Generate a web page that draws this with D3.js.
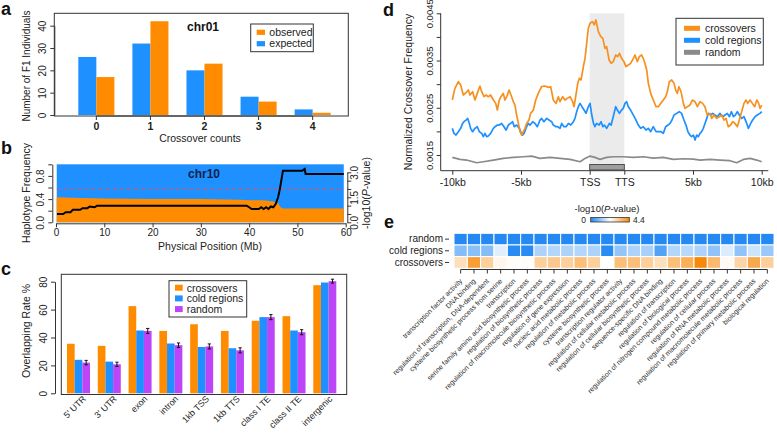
<!DOCTYPE html>
<html><head><meta charset="utf-8">
<script src="https://cdn.jsdelivr.net/npm/d3@7"></script>
<style>
html,body{margin:0;padding:0;background:#fff;}
svg{display:block;font-family:"Liberation Sans",Arial,Helvetica,sans-serif;}
</style></head><body>
<svg id="chart" width="777" height="433"></svg>
<script>
// ---------------- DATA ----------------
// panel a
const aCats = ["0","1","2","3","4"];
const aExpected = [26, 32, 20, 8.2, 2.5];
const aObserved = [17, 42, 23, 6, 1];
const aTicks = [0, 10, 20, 30, 40];

// panel b (positions in Mb)
const bHapPos  = [0.15, 5, 10, 20, 30, 38, 40, 43, 45, 46, 46.5, 47, 59.6];
const bHapFreq = [0.43, 0.42, 0.41, 0.40, 0.40, 0.39, 0.38, 0.38, 0.36, 0.33, 0.26, 0.24, 0.24];
const bPvalPos = [0.2,1.5,2,3,3.5,5,5.5,6.5,7,8,8.5,10,20,30,39.5,40,40.5,42,42.5,43,43.5,44,44.5,45,45.5,46,46.3,46.6,47,51,51.5,51.7,59.6];
const bPval    = [0.5,0.5,0.6,0.6,0.75,0.75,0.85,0.85,0.95,0.9,1.0,1.0,1.0,1.0,1.0,0.9,0.8,0.8,0.9,0.8,0.9,0.8,0.95,0.9,1.1,1.5,1.9,2.4,3.1,3.1,3.2,2.9,2.9];
const bThreshold = 2;
const bXTicks = [0,10,20,30,40,50,60];

// panel c
const cCats = ["5' UTR","3' UTR","exon","intron","1kb TSS","1kb TTS","class I TE","class II TE","intergenic"];
const cCross  = [35.5, 34, 62.5, 44.7, 49.5, 44.7, 52, 55.3, 77.5];
const cCold   = [24, 22.7, 45, 35.7, 33.2, 32.3, 54.6, 45, 79.4];
const cRandom = [22, 20.8, 44.7, 34.5, 33.6, 30.8, 54.6, 43.8, 80.4];
const cRandomErr = [1.6, 1.5, 1.8, 1.6, 1.8, 1.8, 1.8, 1.8, 1.4];
const cSeries = ["crossovers","cold regions","random"];

// panel d : position (-10..0 kb upstream, 0..1 gene body, 1..11 = TTS + 0..10 kb), value in units of 1e-4
const dUnit = 1e-4;
const dCross = [[-10.0,26.64],[-9.81,29.11],[-9.56,30.52],[-9.39,29.82],[-9.20,27.70],[-9.00,28.19],[-8.83,28.76],[-8.71,27.70],[-8.52,28.40],[-8.35,26.64],[-8.18,28.05],[-7.99,29.60],[-7.86,28.40],[-7.69,27.34],[-7.55,27.70],[-7.38,27.34],[-7.21,27.70],[-7.01,26.64],[-6.84,25.93],[-6.72,24.52],[-6.58,26.64],[-6.46,27.34],[-6.29,28.05],[-6.17,26.64],[-5.99,27.70],[-5.87,28.76],[-5.68,27.34],[-5.56,26.29],[-5.44,25.58],[-5.32,23.46],[-5.19,21.69],[-5.07,19.93],[-4.95,19.22],[-4.83,19.93],[-4.71,20.64],[-4.59,21.69],[-4.42,22.40],[-4.30,23.81],[-4.10,24.52],[-3.93,26.64],[-3.74,28.05],[-3.50,29.46],[-3.25,29.60],[-3.01,29.32],[-2.84,29.46],[-2.65,26.64],[-2.45,25.93],[-2.28,27.34],[-2.16,26.29],[-1.97,27.34],[-1.80,26.64],[-1.63,26.99],[-1.43,27.34],[-1.24,26.29],[-1.14,25.23],[-1.02,27.34],[-0.87,30.17],[-0.75,31.23],[-0.63,30.88],[-0.46,33.70],[-0.34,35.47],[-0.22,38.64],[-0.10,41.82],
[0.01,42.88],[0.08,43.23],[0.13,42.53],[0.18,43.59],[0.25,41.12],[0.32,40.06],[0.38,39.70],[0.44,37.58],[0.49,37.94],[0.56,35.11],[0.62,34.41],[0.68,34.76],[0.75,36.17],[0.81,35.82],[0.86,36.53],[0.92,35.47],[0.99,34.76],
[1.12,33.70],[1.29,34.05],[1.46,34.41],[1.66,35.47],[1.78,36.17],[1.95,34.76],[2.09,35.82],[2.26,36.17],[2.38,35.47],[2.50,34.41],[2.63,33.00],[2.75,30.17],[2.92,28.05],[3.11,26.64],[3.31,25.23],[3.48,25.23],[3.65,25.93],[3.84,26.64],[4.01,27.34],[4.13,28.40],[4.28,30.52],[4.45,30.88],[4.62,30.17],[4.74,28.76],[4.86,28.05],[4.98,29.46],[5.13,28.40],[5.30,25.93],[5.42,24.87],[5.59,25.23],[5.78,25.58],[5.95,26.64],[6.15,26.29],[6.32,25.23],[6.51,26.29],[6.70,25.93],[6.87,25.23],[7.04,23.46],[7.24,23.81],[7.36,22.75],[7.53,23.46],[7.72,22.75],[7.92,23.11],[8.09,23.46],[8.26,22.40],[8.40,22.75],[8.57,20.99],[8.74,21.34],[8.89,22.05],[9.06,21.69],[9.23,20.99],[9.37,22.40],[9.54,24.17],[9.71,25.93],[9.86,26.64],[9.98,25.93],[10.15,26.64],[10.32,25.93],[10.49,25.23],[10.64,26.64],[10.78,25.93],[10.88,24.87],[11.0,25.58]];
const dCold = [[-10.0,20.64],[-9.88,19.58],[-9.73,19.22],[-9.56,19.93],[-9.39,20.64],[-9.25,21.69],[-9.15,22.05],[-9.00,22.40],[-8.88,22.75],[-8.76,21.69],[-8.67,20.64],[-8.52,19.93],[-8.35,20.64],[-8.18,20.99],[-8.03,19.93],[-7.86,19.58],[-7.74,18.87],[-7.62,19.58],[-7.50,18.87],[-7.38,19.01],[-7.21,19.58],[-7.01,20.64],[-6.89,20.99],[-6.72,21.34],[-6.58,21.34],[-6.41,21.69],[-6.24,20.99],[-6.09,20.28],[-5.92,21.34],[-5.75,21.69],[-5.61,22.05],[-5.49,20.99],[-5.32,21.34],[-5.12,20.64],[-4.98,19.58],[-4.88,19.22],[-4.78,19.58],[-4.59,20.99],[-4.47,21.69],[-4.34,21.34],[-4.15,22.05],[-3.98,21.69],[-3.81,20.99],[-3.62,22.40],[-3.50,22.75],[-3.33,22.05],[-3.13,22.75],[-2.96,22.40],[-2.77,22.05],[-2.65,21.34],[-2.45,20.99],[-2.33,20.99],[-2.16,20.64],[-2.04,21.69],[-1.87,20.99],[-1.72,20.99],[-1.55,21.69],[-1.38,21.34],[-1.19,22.05],[-1.07,22.75],[-0.95,24.17],[-0.83,25.23],[-0.70,25.93],[-0.56,25.23],[-0.41,24.52],[-0.27,23.81],[-0.10,25.23],
[0.01,25.93],[0.06,23.46],[0.11,21.69],[0.15,20.99],[0.20,21.69],[0.27,21.34],[0.33,22.05],[0.38,20.99],[0.42,21.34],[0.49,20.64],[0.57,21.69],[0.62,21.34],[0.68,23.11],[0.75,25.23],[0.80,24.52],[0.86,23.81],[0.92,24.52],[0.97,24.87],
[1.05,25.93],[1.17,26.29],[1.29,25.23],[1.46,24.52],[1.66,23.46],[1.85,22.40],[2.02,21.34],[2.19,20.64],[2.38,20.99],[2.58,20.28],[2.75,20.64],[2.92,19.93],[3.11,20.99],[3.31,19.93],[3.48,19.93],[3.67,19.93],[3.84,19.58],[4.01,20.99],[4.18,21.34],[4.33,21.69],[4.47,22.40],[4.62,23.46],[4.81,23.81],[5.00,24.17],[5.17,23.81],[5.34,22.40],[5.49,21.34],[5.63,19.93],[5.78,19.22],[5.90,18.87],[6.03,19.22],[6.15,18.16],[6.27,19.22],[6.39,18.87],[6.51,19.58],[6.63,19.93],[6.75,20.64],[6.87,21.69],[7.00,22.75],[7.12,23.81],[7.29,23.46],[7.43,23.81],[7.60,23.46],[7.77,23.11],[7.96,23.81],[8.16,23.11],[8.33,23.46],[8.50,23.81],[8.65,23.11],[8.79,24.17],[8.94,23.11],[9.08,23.46],[9.23,24.17],[9.37,23.46],[9.54,22.75],[9.71,23.11],[9.91,21.69],[10.03,20.64],[10.20,21.69],[10.34,22.40],[10.52,23.11],[10.68,23.46],[10.88,23.81],[11.0,24.17]];
const dRandom = [[-10,14.49],[-9.44,14.07],[-8.96,13.93],[-8.23,13.36],[-7.74,13.57],[-7.01,13.93],[-6.29,14.28],[-5.56,14.49],[-4.83,14.63],[-4.22,14.77],[-3.62,14.28],[-2.89,14.49],[-2.16,14.28],[-1.43,14.07],[-0.70,13.57],[-0.34,14.28],[0.01,14.77],[0.15,14.49],[0.30,14.07],[0.49,14.49],[0.68,14.63],[0.97,14.63],[1.66,14.49],[2.38,14.63],[3.11,14.35],[3.84,14.49],[4.57,14.07],[5.30,14.21],[6.03,14.14],[6.51,13.93],[7.24,14.07],[7.97,13.93],[8.69,13.79],[9.18,13.36],[9.67,14.07],[10.15,14.28],[10.64,13.93],[11.0,13.57]];
const dXTicks = [-10, -5, 0, 1, 6, 11];
const dXLabels = ["-10kb","-5kb","TSS","TTS","5kb","10kb"];
const dYTicks = [0.0015,0.0020,0.0025,0.0030,0.0035,0.0040,0.0045];
const dYLabelled = [0.0015,0.0025,0.0035,0.0045];

// panel e
const eTerms = ["transcription factor activity","DNA binding","regulation of transcription, DNA-dependent","cysteine biosynthetic process from serine","transcription","serine family amino acid biosynthetic process","regulation of biosynthetic process","regulation of macromolecule biosynthetic process","regulation of gene expression","nucleic acid metabolic process","regulation of metabolic process","cysteine biosynthetic process","transcription regulator activity","regulation of cellular metabolic process","regulation of cellular biosynthetic process","sequence-specific DNA binding","regulation of transcription","regulation of biological process","regulation of nitrogen compound metabolic process","regulation of cellular process","regulation of RNA metabolic process","regulation of macromolecule metabolic process","regulation of primary metabolic process","biological regulation"];
const eRows = ["random","cold regions","crossovers"];
const eRandom = [0.05,0.05,0.05,0.05,0.05,0.05,0.05,0.05,0.05,0.05,0.05,0.05,0.05,0.05,0.05,0.05,0.05,0.05,0.05,0.05,0.05,0.05,0.05,0.05];
const eCold   = [1.0,1.05,1.0,1.9,0.1,0.1,1.4,1.45,1.4,1.45,1.4,0.1,1.15,1.4,1.35,0.5,1.45,1.5,1.4,1.1,1.85,1.1,1.7,1.2];
const eCross  = [2.8,4.0,3.1,2.35,2.25,2.25,3.1,3.2,3.1,3.4,3.1,2.2,3.4,3.4,3.1,2.8,3.4,3.7,4.4,3.5,2.3,3.0,3.8,3.1];
const eMax = 4.4;

// ---------------- DRAWING ----------------
const ORANGE = "#FF8C00", BLUE = "#1E90FF", PURPLE = "#BC45F7", GRAY = "#8a8a8a", INK = "#222";
const svg = d3.select("#chart");

function styleAxis(g, fs) {
  g.attr("font-family", null).attr("font-size", null);
  g.selectAll("text").attr("fill", INK).style("font-size", fs + "px");
  g.selectAll("line").attr("stroke", "#333");
  g.selectAll("path.domain").attr("stroke", "#333");
}
function rotYLabels(g, off) {
  g.selectAll(".tick text").attr("transform", "rotate(-90)").attr("x", 0).attr("y", off)
    .attr("dy", 0).attr("text-anchor", "middle");
}
function panelLetter(t, x, y) {
  svg.append("text").attr("x", x).attr("y", y).text(t)
    .attr("font-weight", "bold").attr("font-size", 18).attr("fill", "#111");
}

// ===== Panel a =====
panelLetter("a", 1, 15);
const aX = d3.scaleBand().domain(aCats).range([69.3, 339.7]).paddingInner(1/3).paddingOuter(1/6);
const aY = d3.scaleLinear().domain([0, 40]).range([115, 25.7]);
const gA = svg.append("g");
gA.selectAll("rect.exp").data(aCats).join("rect").attr("class","exp")
  .attr("x", d => aX(d)).attr("width", aX.bandwidth()/2)
  .attr("y", (d,i) => aY(aExpected[i])).attr("height", (d,i) => aY(0) - aY(aExpected[i])).attr("fill", BLUE);
gA.selectAll("rect.obs").data(aCats).join("rect").attr("class","obs")
  .attr("x", d => aX(d) + aX.bandwidth()/2).attr("width", aX.bandwidth()/2)
  .attr("y", (d,i) => aY(aObserved[i])).attr("height", (d,i) => aY(0) - aY(aObserved[i])).attr("fill", ORANGE);
gA.append("rect").attr("x", 54.3).attr("y", 13.3).attr("width", 294).attr("height", 102.7)
  .attr("fill", "none").attr("stroke", "#333");
const aYAxis = gA.append("g").attr("transform", "translate(54.3,0)")
  .call(d3.axisLeft(aY).tickValues(aTicks).tickSize(4).tickSizeOuter(0));
styleAxis(aYAxis, 10); rotYLabels(aYAxis, -8);
const aXAxis = gA.append("g").attr("transform", "translate(0,116)")
  .call(d3.axisBottom(aX).tickSize(4).tickSizeOuter(0));
styleAxis(aXAxis, 10.5);
aXAxis.select("path.domain").remove();
aXAxis.selectAll(".tick text").attr("font-weight", "bold").attr("y", 7);
gA.append("line").attr("x1", aX("0") + aX.bandwidth()/2).attr("x2", aX("4") + aX.bandwidth()/2)
  .attr("y1", 116).attr("y2", 116).attr("stroke", "#333");
gA.append("text").attr("x", 200).attr("y", 142).attr("text-anchor", "middle").attr("font-size", 10.5).attr("fill", INK).text("Crossover counts");
gA.append("text").attr("transform", "translate(30,66) rotate(-90)").attr("text-anchor", "middle").attr("font-size", 10).attr("fill", INK).text("Number of F1 Individuals");
gA.append("text").attr("x", 203).attr("y", 30.5).attr("text-anchor", "middle").attr("font-size", 12).attr("font-weight", "bold").attr("fill", "#111").text("chr01");
// legend a
gA.append("rect").attr("x", 250.7).attr("y", 24).attr("width", 62.6).attr("height", 27.7).attr("fill", "#fff").attr("stroke", "#333");
[["observed", ORANGE, 32.3], ["expected", BLUE, 43.7]].forEach(([t, c, y]) => {
  gA.append("rect").attr("x", 256.7).attr("y", y - 2.6).attr("width", 8.3).attr("height", 5.2).attr("fill", c);
  gA.append("text").attr("x", 269.3).attr("y", y + 3.6).attr("font-size", 10.5).attr("fill", INK).text(t);
});

// ===== Panel b =====
panelLetter("b", 1, 154);
const bX = d3.scaleLinear().domain([0, 60]).range([56, 345.7]);
const bY = d3.scaleLinear().domain([0, 1]).range([222.3, 164.3]);
const bP = d3.scaleLinear().domain([0, 3]).range([222.3, 172.3]);
const gB = svg.append("g");
gB.append("rect").attr("x", bX(bHapPos[0])).attr("y", bY(1))
  .attr("width", bX(bHapPos[bHapPos.length-1]) - bX(bHapPos[0])).attr("height", bY(0) - bY(1)).attr("fill", BLUE);
const hapPts = bHapPos.map((p, i) => [p, bHapFreq[i]]);
gB.append("path").datum(hapPts).attr("fill", ORANGE)
  .attr("d", d3.area().x(d => bX(d[0])).y0(bY(0)).y1(d => bY(d[1])));
gB.append("line").attr("x1", bX(bHapPos[0])).attr("x2", bX(bHapPos[bHapPos.length-1]))
  .attr("y1", bP(bThreshold)).attr("y2", bP(bThreshold))
  .attr("stroke", "#e0565b").attr("stroke-width", 1).attr("stroke-dasharray", "4,3");
const pPts = bPvalPos.map((p, i) => [p, bPval[i]]);
gB.append("path").datum(pPts).attr("fill", "none").attr("stroke", "#000").attr("stroke-width", 2)
  .attr("d", d3.line().x(d => bX(d[0])).y(d => bP(d[1])));
gB.append("text").attr("x", 204).attr("y", 178).attr("text-anchor", "middle").attr("font-size", 12).attr("font-weight", "bold").attr("fill", "#13204a").text("chr10");
const bYAxis = gB.append("g").attr("transform", "translate(52.3,0)")
  .call(d3.axisLeft(bY).tickValues([0,0.2,0.4,0.6,0.8,1.0]).tickSize(4).tickSizeOuter(0)
    .tickFormat(d => [0,0.4,0.8].includes(+d.toFixed(1)) ? d.toFixed(1) : ""));
styleAxis(bYAxis, 10); rotYLabels(bYAxis, -8);
const bRAxis = gB.append("g").attr("transform", "translate(347.3,0)")
  .call(d3.axisRight(bP).tickValues([0,0.5,1,1.5,2,2.5,3]).tickSize(4).tickSizeOuter(0)
    .tickFormat(d => [0,1.5,3].includes(d) ? d.toFixed(1) : ""));
styleAxis(bRAxis, 10); rotYLabels(bRAxis, 10.6);
const bXAxis = gB.append("g").attr("transform", "translate(0,223.3)")
  .call(d3.axisBottom(bX).tickValues(bXTicks).tickSize(4).tickSizeOuter(0));
styleAxis(bXAxis, 10);
bXAxis.selectAll(".tick text").attr("y", 6);
gB.append("text").attr("x", 210).attr("y", 249.5).attr("text-anchor", "middle").attr("font-size", 10.5).attr("fill", INK).text("Physical Position (Mb)");
gB.append("text").attr("transform", "translate(30,193) rotate(-90)").attr("text-anchor", "middle").attr("font-size", 10.5).attr("fill", INK).text("Haplotype Frequency");
const bRT = gB.append("text").attr("transform", "translate(370,193) rotate(-90)").attr("text-anchor", "middle").attr("font-size", 10.5).attr("fill", INK);
bRT.append("tspan").text("-log10(");
bRT.append("tspan").attr("font-style", "italic").text("P");
bRT.append("tspan").text("-value)");

// ===== Panel c =====
panelLetter("c", 1, 275);
const cX = d3.scaleBand().domain(cCats).range([63.1, 340.2]).paddingInner(0.253).paddingOuter(0.1266);
const cSub = d3.scaleBand().domain(cSeries).range([0, cX.bandwidth()]);
const cY = d3.scaleLinear().domain([0, 80]).range([393.3, 281.7]);
const gC = svg.append("g");
const cVals = [cCross, cCold, cRandom];
const cCols = [ORANGE, BLUE, PURPLE];
cSeries.forEach((s, si) => {
  gC.selectAll("rect.s" + si).data(cCats).join("rect").attr("class", "s" + si)
    .attr("x", d => cX(d) + cSub(s)).attr("width", cSub.bandwidth())
    .attr("y", (d,i) => cY(cVals[si][i])).attr("height", (d,i) => cY(0) - cY(cVals[si][i])).attr("fill", cCols[si]);
});
cCats.forEach((c, i) => {
  const x = cX(c) + cSub("random") + cSub.bandwidth()/2;
  const y1 = cY(cRandom[i] - cRandomErr[i]), y2 = cY(cRandom[i] + cRandomErr[i]);
  gC.append("line").attr("x1", x).attr("x2", x).attr("y1", y1).attr("y2", y2).attr("stroke", "#111").attr("stroke-width", 1);
  [y1, y2].forEach(y => gC.append("line").attr("x1", x - 1.6).attr("x2", x + 1.6).attr("y1", y).attr("y2", y).attr("stroke", "#111"));
});
gC.append("rect").attr("x", 61.3).attr("y", 274.3).attr("width", 285.4).attr("height", 120.2).attr("fill", "none").attr("stroke", "#333");
const cYAxis = gC.append("g").attr("transform", "translate(55,0)")
  .call(d3.axisLeft(cY).tickValues([0,20,40,60,80]).tickSize(4).tickSizeOuter(0));
styleAxis(cYAxis, 10); rotYLabels(cYAxis, -8);
gC.selectAll("text.xl").data(cCats).join("text").attr("class", "xl")
  .attr("transform", d => `translate(${cX(d) + cX.bandwidth()/2 + 8},399.5) rotate(-45)`)
  .attr("text-anchor", "end").attr("font-size", 8.9).attr("fill", INK).text(d => d);
gC.append("text").attr("transform", "translate(30,331) rotate(-90)").attr("text-anchor", "middle").attr("font-size", 10.5).attr("fill", INK).text("Overlapping Rate %");
gC.append("rect").attr("x", 169).attr("y", 280.7).attr("width", 77.7).attr("height", 36.3).attr("fill", "#fff").attr("stroke", "#333");
cSeries.forEach((s, i) => {
  const y = 287.7 + i * 10.7;
  gC.append("rect").attr("x", 175).attr("y", y - 3).attr("width", 7.7).attr("height", 6).attr("fill", cCols[i]);
  gC.append("text").attr("x", 186.7).attr("y", y + 3.8).attr("font-size", 10.5).attr("fill", INK).text(s);
});

// ===== Panel d =====
panelLetter("d", 383, 16);
const dX = d3.scaleLinear().domain([-10, 0, 1, 11]).range([452.3, 589.7, 624.3, 761.7]);
const dY = d3.scaleLinear().domain([0.0015, 0.0045]).range([155, 13.3]);
const gD = svg.append("g");
gD.append("rect").attr("x", dX(0)).attr("width", dX(1) - dX(0)).attr("y", 13.3).attr("height", 152).attr("fill", "#ebebeb");
const dLine = d3.line().x(d => dX(d[0])).y(d => dY(d[1] * dUnit));
[[dRandom, GRAY], [dCold, BLUE], [dCross, "#F7901E"]].forEach(([data, col]) => {
  gD.append("path").datum(data).attr("fill", "none").attr("stroke", col).attr("stroke-width", 1.7)
    .attr("stroke-linejoin", "round").attr("d", dLine);
});
gD.append("rect").attr("x", dX(0)).attr("width", dX(1) - dX(0)).attr("y", 164.5).attr("height", 5.5)
  .attr("fill", "#9e9e9e").attr("stroke", "#333").attr("stroke-width", 0.8);
gD.append("line").attr("x1", 440.7).attr("x2", 440.7).attr("y1", 13.3).attr("y2", 170.7).attr("stroke", "#333");
gD.append("line").attr("x1", 440.7).attr("x2", 768.3).attr("y1", 170.7).attr("y2", 170.7).attr("stroke", "#333");
const dYAxis = gD.append("g").attr("transform", "translate(440.7,0)")
  .call(d3.axisLeft(dY).tickValues(dYTicks).tickSize(4).tickSizeOuter(0)
    .tickFormat(d => dYLabelled.some(v => Math.abs(v - d) < 1e-9) ? d.toFixed(4) : ""));
styleAxis(dYAxis, 9.5); rotYLabels(dYAxis, -8);
dYAxis.select("path.domain").remove();
const dXAxis = gD.append("g").attr("transform", "translate(0,170.7)")
  .call(d3.axisBottom(dX).tickValues(dXTicks).tickSize(4).tickSizeOuter(0).tickFormat((d, i) => dXLabels[i]));
styleAxis(dXAxis, 10.5);
dXAxis.select("path.domain").remove();
dXAxis.selectAll(".tick text").attr("y", 8);
gD.append("text").attr("transform", "translate(412,92) rotate(-90)").attr("text-anchor", "middle").attr("font-size", 10.5).attr("fill", INK).text("Normalized Crossover Frequency");
gD.append("rect").attr("x", 676).attr("y", 18.3).attr("width", 87.3).attr("height", 46.7).attr("fill", "#fff").attr("stroke", "#333");
[["crossovers", "#F7901E"], ["cold regions", BLUE], ["random", GRAY]].forEach(([t, c], i) => {
  const y = 28.3 + i * 12;
  gD.append("rect").attr("x", 684).attr("y", y - 2.5).attr("width", 16).attr("height", 5).attr("fill", c);
  gD.append("text").attr("x", 705).attr("y", y + 3.7).attr("font-size", 10.5).attr("fill", INK).text(t);
});

// ===== Panel e =====
panelLetter("e", 384, 228);
const eColor = d3.scaleLinear().domain([0, eMax/2, eMax]).range(["#1F86F2", "#ffffff", "#F7890A"]);
const eX = d3.scaleBand().domain(eTerms).range([454, 774]);
const eY = d3.scaleBand().domain(eRows).range([233.3, 268.3]);
const gE = svg.append("g");
const eVals = {"random": eRandom, "cold regions": eCold, "crossovers": eCross};
eRows.forEach(r => {
  gE.selectAll("rect.r" + r.replace(/ /g, "")).data(eTerms).join("rect")
    .attr("x", d => eX(d)).attr("y", eY(r)).attr("width", eX.bandwidth()).attr("height", eY.bandwidth())
    .attr("fill", (d, i) => eColor(eVals[r][i])).attr("stroke", "#fff").attr("stroke-width", 1);
});
const eRowAxis = gE.append("g").attr("transform", "translate(449,0)")
  .call(d3.axisLeft(eY).tickSize(4).tickSizeOuter(0));
styleAxis(eRowAxis, 10);
eRowAxis.select("path.domain").remove();
eRowAxis.selectAll(".tick text").attr("x", -6);
const eColAxis = gE.append("g").attr("transform", "translate(0,269.5)")
  .call(d3.axisBottom(eX).tickSize(4).tickSizeOuter(0));
styleAxis(eColAxis, 7);
eColAxis.select("path.domain").remove();
eColAxis.selectAll(".tick text").attr("text-anchor", "end").attr("x", 0).attr("y", 0).attr("dy", 0)
  .attr("transform", "translate(2,12) rotate(-45)").attr("fill", "#2a2a2a");
gE.append("line").attr("x1", eX(eTerms[0]) + eX.bandwidth()/2).attr("x2", eX(eTerms[eTerms.length-1]) + eX.bandwidth()/2)
  .attr("y1", 269.5).attr("y2", 269.5).attr("stroke", "#333");
// colour bar
const defs = svg.append("defs");
const grad = defs.append("linearGradient").attr("id", "egrad");
d3.range(0, 1.0001, 0.1).forEach(t => grad.append("stop").attr("offset", t).attr("stop-color", eColor(t * eMax)));
gE.append("rect").attr("x", 590.7).attr("y", 217.5).attr("width", 38.6).attr("height", 4.5)
  .attr("fill", "url(#egrad)").attr("stroke", "#333").attr("stroke-width", 0.8);
gE.append("text").attr("x", 586).attr("y", 223).attr("text-anchor", "end").attr("font-size", 8.5).attr("fill", INK).text("0");
gE.append("text").attr("x", 633).attr("y", 223).attr("font-size", 8.5).attr("fill", INK).text(eMax.toFixed(1));
const eT = gE.append("text").attr("x", 607).attr("y", 212).attr("text-anchor", "middle").attr("font-size", 9.5).attr("fill", INK);
eT.append("tspan").text("-log10(");
eT.append("tspan").attr("font-style", "italic").text("P");
eT.append("tspan").text("-value)");
</script>
</body></html>
